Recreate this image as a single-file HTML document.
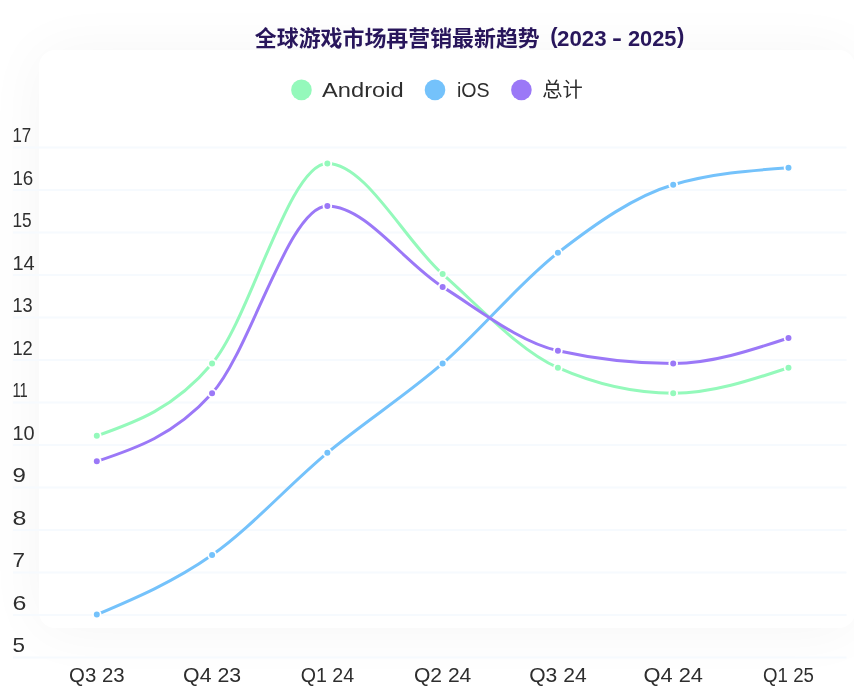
<!DOCTYPE html>
<html><head><meta charset="utf-8"><title>全球游戏市场再营销最新趋势</title>
<style>
html,body{margin:0;padding:0;background:#fff;}
body{width:854px;height:697px;overflow:hidden;position:relative;font-family:"Liberation Sans","Noto Sans CJK SC",sans-serif;}
.card{position:absolute;left:39px;top:50px;width:816px;height:578px;border-radius:16px;background:#fff;box-shadow:0 2px 60px rgba(0,0,0,0.042);}
svg{position:absolute;left:0;top:0;}
</style></head><body>
<div class="card"></div>
<svg width="854" height="697" viewBox="0 0 854 697">
<line x1="13.0" y1="657.50" x2="846.5" y2="657.50" stroke="#f6fafe" stroke-width="2"/>
<line x1="13.0" y1="615.00" x2="846.5" y2="615.00" stroke="#f6fafe" stroke-width="2"/>
<line x1="13.0" y1="572.50" x2="846.5" y2="572.50" stroke="#f6fafe" stroke-width="2"/>
<line x1="13.0" y1="530.00" x2="846.5" y2="530.00" stroke="#f6fafe" stroke-width="2"/>
<line x1="13.0" y1="487.50" x2="846.5" y2="487.50" stroke="#f6fafe" stroke-width="2"/>
<line x1="13.0" y1="445.00" x2="846.5" y2="445.00" stroke="#f6fafe" stroke-width="2"/>
<line x1="13.0" y1="402.50" x2="846.5" y2="402.50" stroke="#f6fafe" stroke-width="2"/>
<line x1="13.0" y1="360.00" x2="846.5" y2="360.00" stroke="#f6fafe" stroke-width="2"/>
<line x1="13.0" y1="317.50" x2="846.5" y2="317.50" stroke="#f6fafe" stroke-width="2"/>
<line x1="13.0" y1="275.00" x2="846.5" y2="275.00" stroke="#f6fafe" stroke-width="2"/>
<line x1="13.0" y1="232.50" x2="846.5" y2="232.50" stroke="#f6fafe" stroke-width="2"/>
<line x1="13.0" y1="190.00" x2="846.5" y2="190.00" stroke="#f6fafe" stroke-width="2"/>
<line x1="13.0" y1="147.50" x2="846.5" y2="147.50" stroke="#f6fafe" stroke-width="2"/>
<text x="12.4" y="652.00" font-family="Liberation Sans, sans-serif" font-size="20.8" fill="#2e2e2e" textLength="12.5" lengthAdjust="spacingAndGlyphs">5</text>
<text x="12.4" y="609.50" font-family="Liberation Sans, sans-serif" font-size="20.8" fill="#2e2e2e" textLength="13.9" lengthAdjust="spacingAndGlyphs">6</text>
<text x="12.4" y="567.00" font-family="Liberation Sans, sans-serif" font-size="20.8" fill="#2e2e2e" textLength="12.5" lengthAdjust="spacingAndGlyphs">7</text>
<text x="12.4" y="524.50" font-family="Liberation Sans, sans-serif" font-size="20.8" fill="#2e2e2e" textLength="13.9" lengthAdjust="spacingAndGlyphs">8</text>
<text x="12.4" y="482.00" font-family="Liberation Sans, sans-serif" font-size="20.8" fill="#2e2e2e" textLength="13.4" lengthAdjust="spacingAndGlyphs">9</text>
<text x="12.4" y="439.50" font-family="Liberation Sans, sans-serif" font-size="20.8" fill="#2e2e2e" textLength="22.2" lengthAdjust="spacingAndGlyphs">10</text>
<text x="12.4" y="397.00" font-family="Liberation Sans, sans-serif" font-size="20.8" fill="#2e2e2e" textLength="15.3" lengthAdjust="spacingAndGlyphs">11</text>
<text x="12.4" y="354.50" font-family="Liberation Sans, sans-serif" font-size="20.8" fill="#2e2e2e" textLength="20.4" lengthAdjust="spacingAndGlyphs">12</text>
<text x="12.4" y="312.00" font-family="Liberation Sans, sans-serif" font-size="20.8" fill="#2e2e2e" textLength="20.2" lengthAdjust="spacingAndGlyphs">13</text>
<text x="12.4" y="269.50" font-family="Liberation Sans, sans-serif" font-size="20.8" fill="#2e2e2e" textLength="22.3" lengthAdjust="spacingAndGlyphs">14</text>
<text x="12.4" y="227.00" font-family="Liberation Sans, sans-serif" font-size="20.8" fill="#2e2e2e" textLength="19.2" lengthAdjust="spacingAndGlyphs">15</text>
<text x="12.4" y="184.50" font-family="Liberation Sans, sans-serif" font-size="20.8" fill="#2e2e2e" textLength="20.9" lengthAdjust="spacingAndGlyphs">16</text>
<text x="12.4" y="142.00" font-family="Liberation Sans, sans-serif" font-size="20.8" fill="#2e2e2e" textLength="18.8" lengthAdjust="spacingAndGlyphs">17</text>
<text x="69.05" y="682.4" font-family="Liberation Sans, sans-serif" font-size="20" fill="#2e2e2e" textLength="55.5" lengthAdjust="spacingAndGlyphs">Q3 23</text>
<text x="183.08" y="682.4" font-family="Liberation Sans, sans-serif" font-size="20" fill="#2e2e2e" textLength="58.0" lengthAdjust="spacingAndGlyphs">Q4 23</text>
<text x="300.66" y="682.4" font-family="Liberation Sans, sans-serif" font-size="20" fill="#2e2e2e" textLength="53.4" lengthAdjust="spacingAndGlyphs">Q1 24</text>
<text x="413.94" y="682.4" font-family="Liberation Sans, sans-serif" font-size="20" fill="#2e2e2e" textLength="57.4" lengthAdjust="spacingAndGlyphs">Q2 24</text>
<text x="529.22" y="682.4" font-family="Liberation Sans, sans-serif" font-size="20" fill="#2e2e2e" textLength="57.4" lengthAdjust="spacingAndGlyphs">Q3 24</text>
<text x="643.45" y="682.4" font-family="Liberation Sans, sans-serif" font-size="20" fill="#2e2e2e" textLength="59.5" lengthAdjust="spacingAndGlyphs">Q4 24</text>
<text x="763.08" y="682.4" font-family="Liberation Sans, sans-serif" font-size="20" fill="#2e2e2e" textLength="50.8" lengthAdjust="spacingAndGlyphs">Q1 25</text>
<path d="M96.80,435.84 C135.23,422.36 173.65,408.88 212.08,363.49 C250.51,318.09 288.93,163.45 327.36,163.45 C365.79,163.45 404.21,240.06 442.64,274.11 C481.07,308.16 519.49,350.72 557.92,367.74 C596.35,384.77 634.77,393.28 673.20,393.28 C711.63,393.28 750.05,380.51 788.48,367.74" fill="none" stroke="#94f9bb" stroke-width="3" stroke-linecap="round" stroke-linejoin="round"/>
<circle cx="96.80" cy="435.84" r="3.9" fill="#94f9bb" stroke="#fff" stroke-width="1.8"/>
<circle cx="212.08" cy="363.49" r="3.9" fill="#94f9bb" stroke="#fff" stroke-width="1.8"/>
<circle cx="327.36" cy="163.45" r="3.9" fill="#94f9bb" stroke="#fff" stroke-width="1.8"/>
<circle cx="442.64" cy="274.11" r="3.9" fill="#94f9bb" stroke="#fff" stroke-width="1.8"/>
<circle cx="557.92" cy="367.74" r="3.9" fill="#94f9bb" stroke="#fff" stroke-width="1.8"/>
<circle cx="673.20" cy="393.28" r="3.9" fill="#94f9bb" stroke="#fff" stroke-width="1.8"/>
<circle cx="788.48" cy="367.74" r="3.9" fill="#94f9bb" stroke="#fff" stroke-width="1.8"/>

<path d="M96.80,614.59 C135.23,598.28 173.65,581.96 212.08,555.01 C250.51,528.05 288.93,484.78 327.36,452.86 C365.79,420.94 404.21,396.82 442.64,363.49 C481.07,330.15 519.49,282.62 557.92,252.83 C596.35,223.04 634.77,196.08 673.20,184.73 C711.63,173.38 750.05,170.55 788.48,167.71" fill="none" stroke="#74c2fb" stroke-width="3" stroke-linecap="round" stroke-linejoin="round"/>
<circle cx="96.80" cy="614.59" r="3.9" fill="#74c2fb" stroke="#fff" stroke-width="1.8"/>
<circle cx="212.08" cy="555.01" r="3.9" fill="#74c2fb" stroke="#fff" stroke-width="1.8"/>
<circle cx="327.36" cy="452.86" r="3.9" fill="#74c2fb" stroke="#fff" stroke-width="1.8"/>
<circle cx="442.64" cy="363.49" r="3.9" fill="#74c2fb" stroke="#fff" stroke-width="1.8"/>
<circle cx="557.92" cy="252.83" r="3.9" fill="#74c2fb" stroke="#fff" stroke-width="1.8"/>
<circle cx="673.20" cy="184.73" r="3.9" fill="#74c2fb" stroke="#fff" stroke-width="1.8"/>
<circle cx="788.48" cy="167.71" r="3.9" fill="#74c2fb" stroke="#fff" stroke-width="1.8"/>

<path d="M96.80,461.37 C135.23,448.61 173.65,435.84 212.08,393.28 C250.51,350.72 288.93,206.01 327.36,206.01 C365.79,206.01 404.21,262.76 442.64,286.88 C481.07,311.00 519.49,342.21 557.92,350.72 C596.35,359.23 634.77,363.49 673.20,363.49 C711.63,363.49 750.05,350.72 788.48,337.95" fill="none" stroke="#9b78f7" stroke-width="3" stroke-linecap="round" stroke-linejoin="round"/>
<circle cx="96.80" cy="461.37" r="3.9" fill="#9b78f7" stroke="#fff" stroke-width="1.8"/>
<circle cx="212.08" cy="393.28" r="3.9" fill="#9b78f7" stroke="#fff" stroke-width="1.8"/>
<circle cx="327.36" cy="206.01" r="3.9" fill="#9b78f7" stroke="#fff" stroke-width="1.8"/>
<circle cx="442.64" cy="286.88" r="3.9" fill="#9b78f7" stroke="#fff" stroke-width="1.8"/>
<circle cx="557.92" cy="350.72" r="3.9" fill="#9b78f7" stroke="#fff" stroke-width="1.8"/>
<circle cx="673.20" cy="363.49" r="3.9" fill="#9b78f7" stroke="#fff" stroke-width="1.8"/>
<circle cx="788.48" cy="337.95" r="3.9" fill="#9b78f7" stroke="#fff" stroke-width="1.8"/>

<circle cx="301.45" cy="89.9" r="10.3" fill="#94f9bb"/>
<circle cx="435.0" cy="89.9" r="10.3" fill="#74c2fb"/>
<circle cx="521.4" cy="89.9" r="10.3" fill="#9b78f7"/>
<text x="322.1" y="96.8" font-family="Liberation Sans, sans-serif" font-size="20" fill="#2e2e2e" textLength="81.5" lengthAdjust="spacingAndGlyphs">Android</text>
<text x="456.9" y="96.8" font-family="Liberation Sans, sans-serif" font-size="20" fill="#2e2e2e" textLength="32.7" lengthAdjust="spacingAndGlyphs">iOS</text>
<text x="542.2" y="96.8" font-family="Liberation Sans, Noto Sans CJK SC, sans-serif" font-size="20" fill="#2e2e2e" textLength="40.5" lengthAdjust="spacingAndGlyphs">总计</text>
<text font-family="Liberation Sans, Noto Sans CJK SC, sans-serif" font-size="22" font-weight="bold" fill="#28165b"><tspan x="254.8" y="45.8" textLength="285.0" lengthAdjust="spacingAndGlyphs">全球游戏市场再营销最新趋势</tspan><tspan x="550.3" y="43.2">(</tspan><tspan x="557.0" y="45.8" font-size="22.8" textLength="49.6" lengthAdjust="spacingAndGlyphs">2023</tspan><tspan x="612.0" y="44.9" textLength="10.0" lengthAdjust="spacingAndGlyphs">-</tspan><tspan x="627.9" y="45.8" font-size="22.8" textLength="48.6" lengthAdjust="spacingAndGlyphs">2025</tspan><tspan x="677.0" y="43.2">)</tspan></text>
</svg>
</body></html>
